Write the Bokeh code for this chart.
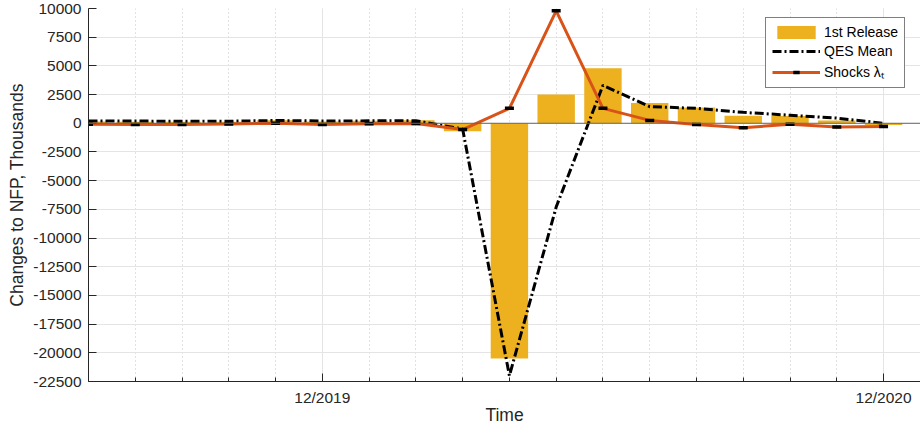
from bokeh.plotting import figure
from bokeh.models import (Range1d, FixedTicker, PrintfTickFormatter, Span,
                          Legend, LegendItem)
from bokeh.embed import file_html
from bokeh.resources import INLINE

# ---- data (thousands) ----
months = ["07/2019", "08/2019", "09/2019", "10/2019", "11/2019", "12/2019",
          "01/2020", "02/2020", "03/2020", "04/2020", "05/2020", "06/2020",
          "07/2020", "08/2020", "09/2020", "10/2020", "11/2020", "12/2020"]
first_release = [164, 130, 136, 128, 266, 145, 225, 273, -701, -20500,
                 2509, 4800, 1763, 1371, 661, 638, 245, -140]
qes_mean = [200, 190, 180, 180, 240, 200, 210, 220, -500, -22000,
            -7300, 3300, 1450, 1300, 950, 700, 450, 0]
shocks = [-80, -100, -100, -60, 0, -100, -40, -20, -550, 1300,
          9800, 1300, 250, -100, -380, -90, -330, -280]
x_tick_labels = ["12/2019", "12/2020"]
y_ticks = [-22500, -20000, -17500, -15000, -12500, -10000, -7500, -5000,
           -2500, 0, 2500, 5000, 7500, 10000]

x = list(range(len(months)))
major_pos = [months.index(m) for m in x_tick_labels]

FONT = "Liberation Sans"
TXT = "#262626"

p = figure(width=920, height=427, output_backend="svg", toolbar_location=None,
           x_range=Range1d(0, 17.79), y_range=Range1d(-22500, 10000),
           min_border_left=88, min_border_right=0, min_border_top=8,
           min_border_bottom=46)
p.outline_line_color = None
p.background_fill_color = "white"
p.border_fill_color = "white"

ticker_x = FixedTicker(ticks=major_pos, minor_ticks=x)
p.xaxis.ticker = ticker_x
p.xgrid.ticker = ticker_x
p.xaxis.major_label_overrides = {pos: lab for pos, lab in zip(major_pos, x_tick_labels)}
p.xaxis.major_tick_in = 8
p.xaxis.major_tick_out = 0
p.xaxis.minor_tick_in = 4
p.xaxis.minor_tick_out = 0
p.xaxis.major_label_standoff = 7
p.xaxis.axis_label = "Time"
p.xaxis.axis_label_standoff = -4

ticker_y = FixedTicker(ticks=y_ticks)
p.yaxis.ticker = ticker_y
p.ygrid.ticker = ticker_y
p.yaxis.formatter = PrintfTickFormatter(format="%d")
p.yaxis.major_tick_in = 8
p.yaxis.major_tick_out = 0
p.yaxis.minor_tick_in = 0
p.yaxis.minor_tick_out = 0
p.yaxis.major_label_standoff = 7
p.yaxis.axis_label = "Changes to NFP, Thousands"
p.yaxis.axis_label_standoff = 3

for ax in (p.xaxis, p.yaxis):
    ax.axis_line_color = TXT
    ax.major_tick_line_color = TXT
    ax.minor_tick_line_color = TXT
    ax.major_label_text_font = FONT
    ax.major_label_text_font_size = "15.5px"
    ax.major_label_text_color = TXT
    ax.axis_label_text_font = FONT
    ax.axis_label_text_font_size = "17.5px"
    ax.axis_label_text_font_style = "normal"
    ax.axis_label_text_color = TXT

p.ygrid.grid_line_color = "#e4e4e4"
p.xgrid.grid_line_color = "#e4e4e4"
p.xgrid.minor_grid_line_color = "#c4c4c4"
p.xgrid.minor_grid_line_dash = "1 3"

bars = p.vbar(x=x, top=first_release, width=0.8, fill_color="#EDB120",
              line_color=None)
p.add_layout(Span(location=0, dimension="width", line_color="#666666",
                  line_width=1))
qes = p.line(x, qes_mean, line_color="black", line_width=3,
             line_dash="9 3 2 3")
sline = p.line(x, shocks, line_color="#D95319", line_width=3)
smark = p.scatter(x, shocks, marker="dash", size=9, line_color="black",
                  line_width=3.5)

legend = Legend(items=[LegendItem(label="1st Release", renderers=[bars]),
                       LegendItem(label="QES Mean", renderers=[qes]),
                       LegendItem(label="Shocks λₜ", renderers=[sline, smark])],
                location=(677, 293))
legend.margin = 0
legend.border_line_color = "black"
legend.border_line_width = 1
legend.background_fill_color = "white"
legend.background_fill_alpha = 1
legend.label_text_font = FONT
legend.label_text_font_size = "14px"
legend.label_text_color = "black"
legend.glyph_width = 48
legend.glyph_height = 16
legend.spacing = 3
legend.padding = 6
legend.label_standoff = 4
p.add_layout(legend)

open("out.html", "w").write(file_html(p, INLINE))
